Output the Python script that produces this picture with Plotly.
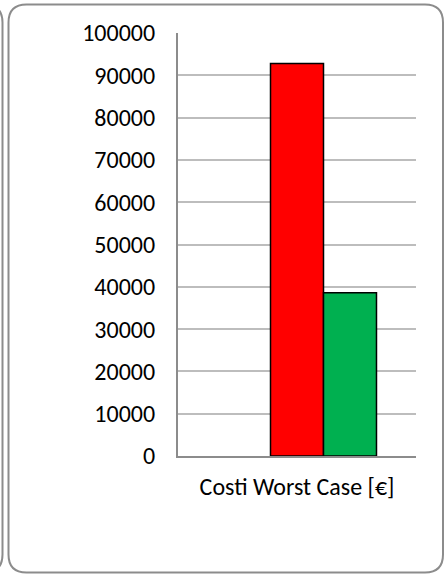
import plotly.graph_objects as go

categories = ["Costi Worst Case [€]"]
series_names = ["Serie 0", "Serie 1", "Serie 2"]
series_values = [[None], [92800], [38600]]
series_colors = ["#4472C4", "#FF0000", "#00B050"]
y_ticks = [0, 10000, 20000, 30000, 40000, 50000, 60000, 70000, 80000, 90000, 100000]

W, H = 445, 574
ML, MR, MT, MB = 178, 29, 33, 118
PW, PH = W - ML - MR, H - MT - MB

def px(x):
    return (x - ML) / PW

def py(y):
    return (H - MB - y) / PH

fig = go.Figure()
for name, vals, col in zip(series_names, series_values, series_colors):
    fig.add_trace(go.Bar(
        x=categories, y=vals, name=name,
        marker=dict(color=col, line=dict(color="#000000", width=1.5)),
        showlegend=False,
    ))

def rrect(x0, y0, x1, y1, r):
    return (f"M {px(x0+r)},{py(y0)} L {px(x1-r)},{py(y0)} Q {px(x1)},{py(y0)} {px(x1)},{py(y0+r)} "
            f"L {px(x1)},{py(y1-r)} Q {px(x1)},{py(y1)} {px(x1-r)},{py(y1)} "
            f"L {px(x0+r)},{py(y1)} Q {px(x0)},{py(y1)} {px(x0)},{py(y1-r)} "
            f"L {px(x0)},{py(y0+r)} Q {px(x0)},{py(y0)} {px(x0+r)},{py(y0)} Z")

shapes = [
    dict(type="path", xref="paper", yref="paper", path=rrect(8.5, 4.5, 443, 572.5, 18),
         line=dict(color="#8c8c8c", width=2), layer="below"),
    dict(type="path", xref="paper", yref="paper", path=rrect(-440, 4.5, 2.5, 572.5, 18),
         line=dict(color="#8c8c8c", width=2), layer="below"),
]

fig.update_layout(
    width=W, height=H,
    margin=dict(l=ML, r=MR, t=MT, b=MB, pad=0),
    paper_bgcolor="white", plot_bgcolor="white",
    barmode="group", bargap=0.332, bargroupgap=0,
    font=dict(family="Carlito, Lato, sans-serif", size=24, color="#000000"),
    shapes=shapes,
    showlegend=False,
    xaxis=dict(showline=True, linecolor="#8c8c8c", linewidth=2, showgrid=False,
               ticks="", ticklabelstandoff=8, tickfont=dict(size=24)),
    yaxis=dict(range=[0, 100000], tickvals=y_ticks, ticktext=[str(v) for v in y_ticks],
               showline=True, linecolor="#8c8c8c", linewidth=2,
               showgrid=True, gridcolor="#bdbdbd", gridwidth=1.5,
               zeroline=False, ticks="", ticklabelstandoff=16, tickfont=dict(size=24)),
)

fig.write_html("out.html", config={"displayModeBar": False},
               post_script="document.body.style.margin='0';document.body.style.overflow='hidden';")
